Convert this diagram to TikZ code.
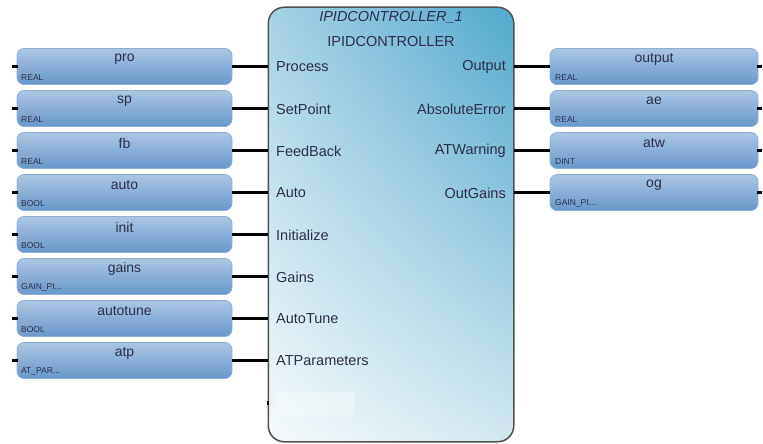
\documentclass[tikz,border=0pt]{standalone}
\usepackage{fontspec}
\setmainfont{Liberation Sans}
\usetikzlibrary{shadings}
\definecolor{txt}{HTML}{2E2E48}
\definecolor{boxtop}{HTML}{ACC6E3}
\definecolor{boxbot}{HTML}{6797CB}
\definecolor{boxedge}{HTML}{8FB0D6}
\definecolor{blkedge}{HTML}{505050}
\definecolor{cUL}{HTML}{A6D2E4}
\definecolor{cUR}{HTML}{4FA9CC}
\definecolor{cLL}{HTML}{F6FAFC}
\definecolor{cLR}{HTML}{D2E8F0}
\newcommand{\gainpi}{GAIN\_PI...}
\newcommand{\atpar}{AT\_PAR...}
\begin{document}
\begin{tikzpicture}[x=1pt,y=-1pt,
  varbox/.style={draw=boxedge, line width=0.8, rounded corners=7, top color=boxtop, bottom color=boxbot, minimum height=36, inner sep=0},
  inbox/.style={varbox, minimum width=215},
  outbox/.style={varbox, minimum width=208},
  namelbl/.style={font=\fontsize{14}{14}\selectfont, text=txt, inner sep=0},
  typelbl/.style={font=\fontsize{8.5}{9}\selectfont, text=txt, inner sep=0, anchor=west},
  port/.style={font=\fontsize{14.5}{15}\selectfont, text=txt, inner sep=0},
  title/.style={font=\fontsize{14.5}{15}\selectfont, text=txt, inner sep=0},
  wire/.style={line width=3, black},
  pin/.style={line width=3, black},
  blockbox/.style={draw=blkedge, line width=1.5, rounded corners=16, minimum width=244, minimum height=433, inner sep=0}
]
\useasboundingbox (0,0) rectangle (763,444);
% main block
\node[blockbox] (blk) at (391,224.5) {};
\shade[rounded corners=16, upper left=cUL, upper right=cUR, lower left=cLL, lower right=cLR]
  (blk.south west) rectangle (blk.north east);
\draw[draw=blkedge, line width=1.5, rounded corners=16] (blk.south west) rectangle (blk.north east);
\fill[white, opacity=0.3] (277,392) rectangle (355,415);
\coordinate (bpA) at (268,401);
\coordinate (bpB) at (268,405);
\draw[line width=2, black] (bpA) -- (bpB);
\node[title, font=\fontsize{14.5}{15}\selectfont\itshape] (t1) at (391,17) {IPIDCONTROLLER\_1};
\node[title] (t2) at (391,42) {IPIDCONTROLLER};
% inputs
\foreach \i/\n/\t/\p in {0/pro/REAL/Process, 1/sp/REAL/SetPoint, 2/fb/REAL/FeedBack, 3/auto/BOOL/Auto,
  4/init/BOOL/Initialize, 5/gains/\gainpi/Gains, 6/autotune/BOOL/AutoTune, 7/atp/\atpar/ATParameters}{
  \node[inbox] (in\i) at (124.5,66.5+42*\i) {};
  \node[namelbl] (inn\i) at (124.5,59+42*\i) {\n};
  \node[typelbl] (int\i) at (21,77.5+42*\i) {\t};
  \node[port, anchor=west] (ip\i) at (276,67+42*\i) {\p};
  \coordinate (inpin\i) at (12,66.5+42*\i);
  \draw[pin] (inpin\i) -- ([xshift=1pt]in\i.west);
  \draw[wire] (in\i.east) -- (blk.west |- in\i.east);
}
% outputs
\foreach \i/\n/\t/\p in {0/output/REAL/Output, 1/ae/REAL/AbsoluteError, 2/atw/DINT/ATWarning, 3/og/\gainpi/OutGains}{
  \node[outbox] (out\i) at (654,66.5+42*\i) {};
  \node[namelbl] (outn\i) at (654,59+42*\i) {\n};
  \node[typelbl] (outt\i) at (555,77.5+42*\i) {\t};
  \node[port, anchor=east] (op\i) at (506,67+42*\i) {\p};
  \coordinate (outpin\i) at (762,66.5+42*\i);
  \draw[pin] ([xshift=-1pt]out\i.east) -- (outpin\i);
  \draw[wire] (blk.east |- out\i.west) -- (out\i.west);
}
\end{tikzpicture}
\end{document}
